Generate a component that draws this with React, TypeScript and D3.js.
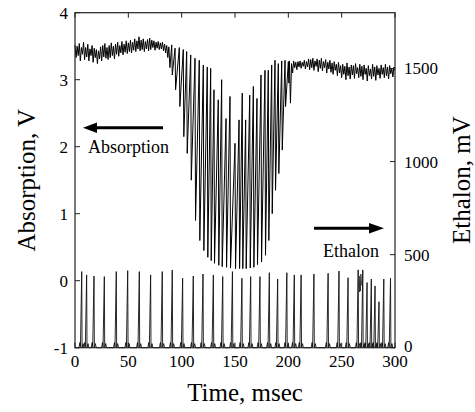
import React from "react";
import * as d3 from "d3";

// ---------- data ----------
// Absorption baseline before the absorption dip, 1 msec steps from t = 0
const absLeftStart = 0;
const absLeftValues = [
  3.52, 3.33, 3.5, 3.36, 3.54, 3.28, 3.48, 3.38, 3.56, 3.3,
  3.48, 3.34, 3.53, 3.28, 3.46, 3.36, 3.51, 3.26, 3.47, 3.33,
  3.45, 3.24, 3.43, 3.31, 3.49, 3.28, 3.51, 3.34, 3.54, 3.32,
  3.48, 3.3, 3.51, 3.33, 3.55, 3.36, 3.5, 3.31, 3.53, 3.38,
  3.56, 3.35, 3.51, 3.4, 3.57, 3.37, 3.53, 3.41, 3.58, 3.39,
  3.55, 3.42, 3.59, 3.4, 3.56, 3.44, 3.61, 3.42, 3.58, 3.46,
  3.64, 3.43, 3.59, 3.45, 3.61, 3.42, 3.57, 3.46, 3.6, 3.43,
  3.62, 3.45, 3.59, 3.48, 3.58, 3.44, 3.56, 3.47, 3.57, 3.45,
  3.55, 3.46, 3.56, 3.43, 3.53, 3.4, 3.51, 3.33, 3.49, 3.18,
];

// Fringes inside the dip: time (msec), top and bottom (V)
const fringeTime = [
  90.7, 93.8, 97.8, 101.5, 104.7, 108.5, 112.5, 116.5, 120.3, 124.0, 127.2,
  130.3, 134.3, 137.5, 141.6, 145.3, 150.0, 153.8, 156.8, 160.0, 163.8,
  167.2, 170.6, 174.4, 178.1, 181.2, 184.4, 187.5, 190.6, 193.8, 196.9, 200.0,
];
const fringeTop = [
  3.52, 3.47, 3.48, 3.45, 3.42, 3.37, 3.32, 3.29, 3.22, 3.19, 3.17,
  2.85, 2.7, 3.0, 2.42, 2.75, 2.05, 2.4, 2.8, 2.4, 2.77,
  2.9, 2.72, 3.07, 3.14, 3.14, 3.22, 3.29, 3.24, 3.28, 3.29, 3.27,
];
const fringeBottom = [
  3.07, 2.85, 2.6, 2.15, 1.9, 1.5, 0.9, 0.6, 0.45, 0.35, 0.3,
  0.26, 0.23, 0.21, 0.2, 0.19, 0.18, 0.18, 0.18, 0.18, 0.19,
  0.2, 0.24, 0.28, 0.38, 0.6, 1.0, 1.35, 1.6, 1.95, 2.6, 2.95,
];

// Absorption baseline after the dip, 1 msec steps from t = 201
const absRightStart = 201;
const absRightValues = [
  3.28, 2.65, 3.24, 3.1, 3.28, 3.18, 3.26, 3.15, 3.27, 3.19,
  3.28, 3.17, 3.26, 3.2, 3.29, 3.16, 3.27, 3.19, 3.31, 3.15,
  3.3, 3.18, 3.32, 3.14, 3.28, 3.2, 3.31, 3.12, 3.29, 3.17,
  3.32, 3.13, 3.27, 3.18, 3.3, 3.1, 3.26, 3.16, 3.29, 3.11,
  3.25, 3.08, 3.27, 3.14, 3.23, 3.06, 3.26, 3.1, 3.21, 3.03,
  3.23, 3.08, 3.2, 3.0, 3.25, 3.06, 3.19, 3.01, 3.22, 3.07,
  3.21, 3.02, 3.24, 3.09, 3.18, 3.03, 3.23, 3.05, 3.2, 3.0,
  3.22, 3.08, 3.17, 2.98, 3.21, 3.06, 3.16, 3.01, 3.23, 3.05,
  3.19, 2.99, 3.21, 3.07, 3.17, 3.02, 3.22, 3.08, 3.18, 3.03,
  3.23, 3.06, 3.19, 3.01, 3.21, 3.09, 3.17, 3.04, 3.19, 3.14,
];

// Ethalon transmission peaks: time (msec) and height (mV)
const peakTime = [
  6.3, 10.9, 17.8, 27.5, 38.7, 49.4, 60.3, 70.9, 81.8, 91.2, 100.9, 110.9,
  120.0, 129.7, 138.5, 147.6, 156.5, 164.7, 173.4, 182.2, 190.0, 198.6,
  205.6, 212.0, 224.0, 237.3, 247.5, 256.0, 265.5, 269.8, 273.8, 277.8,
  281.3, 285.0, 289.5, 295.8,
];
const peakHeight = [
  409, 391, 385, 382, 409, 414, 409, 391, 409, 418, 373, 385,
  396, 391, 382, 409, 373, 382, 382, 403, 369, 403,
  391, 391, 396, 400, 412, 376, 418, 418, 350, 369,
  332, 247, 369, 373,
];
// Small noisy cluster on the ethalon trace near 266 msec
const glitchTime = [265.6, 266.0, 266.4, 266.8, 267.2, 267.6, 268.0, 268.5];
const glitchValue = [418, 330, 385, 300, 360, 305, 395, 335];

const xTicks = [0, 50, 100, 150, 200, 250, 300];
const yLeftTicks = [-1, 0, 1, 2, 3, 4];
const yRightTicks = [0, 500, 1000, 1500];

// ---------- layout ----------
const W = 475;
const H = 412;
const L = 75;
const R = 395;
const T = 12.7;
const B = 347.7;
const FONT = "Liberation Serif";

export default function App() {
  const x = d3.scaleLinear().domain([0, 300]).range([L, R]);
  const yL = d3.scaleLinear().domain([-1, 4]).range([B, T]);
  const yR = d3.scaleLinear().domain([0, 1800]).range([B, T]);

  // absorption trace
  const absPts: [number, number][] = [];
  absLeftValues.forEach((v, i) => absPts.push([absLeftStart + i, v]));
  fringeTime.forEach((t, i) => {
    absPts.push([t, fringeTop[i]]);
    absPts.push([t + 0.5, fringeBottom[i]]);
  });
  absRightValues.forEach((v, i) => absPts.push([absRightStart + i, v]));
  const absLine = d3
    .line<[number, number]>()
    .x((d) => x(d[0]))
    .y((d) => yL(d[1]));

  // ethalon trace
  const ethPts: [number, number][] = [[0, 0]];
  peakTime.forEach((t, i) => {
    const h = peakHeight[i];
    ethPts.push([t - 2.6, 0]);
    ethPts.push([t - 1.7, 28]);
    ethPts.push([t - 1.2, 4]);
    ethPts.push([t, h]);
    ethPts.push([t + 0.35, 0]);
    ethPts.push([t + 1.3, 22]);
    ethPts.push([t + 2.1, 0]);
  });
  ethPts.push([300, 0]);
  const ethLine = d3
    .line<[number, number]>()
    .x((d) => x(d[0]))
    .y((d) => yR(d[1]));
  const glitchPts: [number, number][] = glitchTime.map((t, i) => [t, glitchValue[i]]);

  const tk = 5;
  const axisColor = "#222";
  const ts = { fontFamily: FONT };

  return (
    <svg width={W} height={H} style={{ position: "absolute", left: 0, top: 0, background: "#fff" }}>
      <rect x={0} y={0} width={W} height={H} fill="#fff" />
      {/* traces */}
      <path d={ethLine(ethPts) || ""} fill="none" stroke="#111" strokeWidth={0.9} />
      <path d={ethLine(glitchPts) || ""} fill="none" stroke="#333" strokeWidth={1} />
      <path d={absLine(absPts) || ""} fill="none" stroke="#000" strokeWidth={1} />

      {/* frame */}
      <rect x={L} y={T} width={R - L} height={B - T} fill="none" stroke={axisColor} strokeWidth={1.2} />

      {/* x ticks */}
      {xTicks.map((v) => (
        <g key={"x" + v}>
          <line x1={x(v)} x2={x(v)} y1={B} y2={B - tk} stroke={axisColor} />
          <line x1={x(v)} x2={x(v)} y1={T} y2={T + tk} stroke={axisColor} />
          <text x={x(v)} y={367} fontSize={17} textAnchor="middle" fill="#000" style={ts}>
            {v}
          </text>
        </g>
      ))}
      {/* left ticks */}
      {yLeftTicks.map((v) => (
        <g key={"yl" + v}>
          <line x1={L} x2={L + tk} y1={yL(v)} y2={yL(v)} stroke={axisColor} />
          <text x={68} y={yL(v)} dy="0.35em" fontSize={17} textAnchor="end" fill="#000" style={ts}>
            {v}
          </text>
        </g>
      ))}
      {/* right ticks */}
      {yRightTicks.map((v) => (
        <g key={"yr" + v}>
          <line x1={R} x2={R - tk} y1={yR(v)} y2={yR(v)} stroke={axisColor} />
          <text
            x={404}
            y={yR(v)}
            dy={v === 0 ? "0.25em" : "0.35em"}
            fontSize={17}
            textAnchor="start"
            fill="#000"
            style={ts}
          >
            {v}
          </text>
        </g>
      ))}

      {/* axis titles */}
      <text
        transform={`translate(35,${(T + B) / 2}) rotate(-90)`}
        fontSize={25}
        textAnchor="middle"
        fill="#000"
        style={ts}
      >
        Absorption, V
      </text>
      <text
        transform={`translate(470,${(T + B) / 2}) rotate(-90)`}
        fontSize={25}
        textAnchor="middle"
        fill="#000"
        style={ts}
      >
        Ethalon, mV
      </text>
      <text x={245} y={401} fontSize={25} textAnchor="middle" fill="#000" style={ts}>
        Time, msec
      </text>

      {/* annotations */}
      <line x1={163} x2={94} y1={127.7} y2={127.7} stroke="#000" strokeWidth={3} />
      <path d="M83,127.7 L97,122.5 L97,132.9 Z" fill="#000" />
      <text x={88} y={153} fontSize={18} fill="#000" style={ts}>
        Absorption
      </text>

      <line x1={314} x2={372} y1={228.3} y2={228.3} stroke="#000" strokeWidth={3} />
      <path d="M384,228.3 L369,223 L369,233.6 Z" fill="#000" />
      <text x={323} y={257} fontSize={18} fill="#000" style={ts}>
        Ethalon
      </text>
    </svg>
  );
}
